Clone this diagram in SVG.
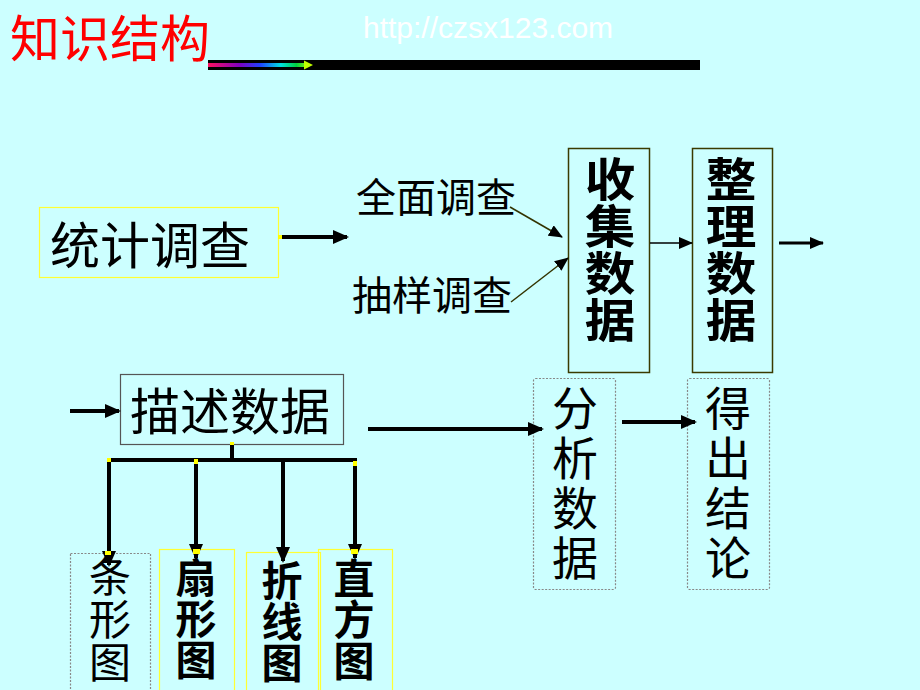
<svg xmlns="http://www.w3.org/2000/svg" width="920" height="690" viewBox="0 0 920 690">
<style>
.cn{font-family:"Noto Sans CJK SC","Noto Sans",sans-serif;fill:#000}
.v{writing-mode:vertical-rl;text-orientation:upright}
.b{font-weight:bold}
.box{fill:none}
.yel{stroke:#ffff33;stroke-width:1.2}
.dot{stroke:#888;stroke-width:1.2;stroke-dasharray:2 1.5}
.olive{stroke:#3a3a00;stroke-width:1.5}
.gray{stroke:#555;stroke-width:1.2}
.thick{stroke:#000;stroke-width:4;fill:none}
.thin{stroke:#333300;stroke-width:1.5;fill:none}
.cap{fill:#ffff00}
</style>
<defs>
<marker id="ah" markerUnits="userSpaceOnUse" markerWidth="16" markerHeight="14" refX="14" refY="7" orient="auto">
<path d="M0,0 L16,7 L0,14 Z" fill="#000"/>
</marker>
<marker id="ahs" markerUnits="userSpaceOnUse" markerWidth="14" markerHeight="12" refX="13" refY="6" orient="auto">
<path d="M0,0 L14,6 L0,12 Z" fill="#000"/>
</marker>
<linearGradient id="rainbow" x1="208" y1="0" x2="312" y2="0" gradientUnits="userSpaceOnUse">
<stop offset="0" stop-color="#ff1060"/>
<stop offset="0.3" stop-color="#8000c0"/>
<stop offset="0.5" stop-color="#2040ff"/>
<stop offset="0.7" stop-color="#00e0e0"/>
<stop offset="0.85" stop-color="#00d040"/>
<stop offset="1" stop-color="#c0ff00"/>
</linearGradient>
</defs>
<rect width="920" height="690" fill="#ccffff"/>

<g id="title">
<text x="10" y="57" class="cn" style="fill:#ff0000;font-size:50px">知识结构</text>
<text x="363" y="38" style="font-family:'Liberation Sans',Arial,sans-serif;font-size:30px;fill:#ffffff">http://czsx123.com</text>
<rect x="208" y="60" width="492" height="10" fill="#000"/>
<rect x="208" y="63" width="98" height="4" fill="url(#rainbow)"/>
<path d="M304,60.5 L313,65 L304,69.5 Z" fill="#c0ff00"/>
</g>

<g id="n-tongji">
<rect x="39.5" y="207.5" width="239" height="70" class="box yel"/>
<text x="50" y="264" class="cn" style="font-size:50px">统计调查</text>
</g>

<g id="n-quanmian">
<text x="356" y="212" class="cn" style="font-size:40px">全面调查</text>
</g>
<g id="n-chouyang">
<text x="352" y="310" class="cn" style="font-size:40px">抽样调查</text>
</g>

<g id="n-shouji">
<rect x="568.5" y="148.5" width="81" height="224" class="box olive"/>
<text x="0" y="156" class="cn b v" style="font-size:46px;letter-spacing:1px" transform="translate(610,0) scale(1.1,1)">收集数据</text>
</g>

<g id="n-zhengli">
<rect x="692.5" y="148.5" width="80" height="224" class="box olive"/>
<text x="0" y="156" class="cn b v" style="font-size:46px;letter-spacing:1px" transform="translate(731,0) scale(1.1,1)">整理数据</text>
</g>

<g id="n-miaoshu">
<rect x="120.5" y="374.5" width="223" height="70" class="box gray"/>
<text x="130" y="430" class="cn" style="font-size:50px">描述数据</text>
</g>

<g id="n-fenxi">
<rect x="533.5" y="378.5" width="82" height="211" rx="2" class="box dot"/>
<text x="575" y="385" class="cn v" style="font-size:46px;letter-spacing:4px">分析数据</text>
</g>

<g id="n-dechu">
<rect x="687.5" y="378.5" width="82" height="211" rx="2" class="box dot"/>
<text x="728" y="385" class="cn v" style="font-size:46px;letter-spacing:4px">得出结论</text>
</g>

<g id="n-tiaoxing">
<rect x="70.5" y="553.5" width="80" height="140" class="box dot"/>
<text x="110" y="555" class="cn v" style="font-size:42px;letter-spacing:1px">条形图</text>
</g>

<g id="n-shanxing">
<rect x="159.5" y="549.5" width="75" height="144" class="box yel"/>
<text x="196" y="557" class="cn b v" style="font-size:41px">扇形图</text>
</g>

<g id="n-zhexian">
<rect x="246.5" y="552.5" width="74" height="141" class="box yel"/>
<text x="282" y="560" class="cn b v" style="font-size:41px">折线图</text>
</g>

<g id="n-zhifang">
<rect x="318.5" y="549.5" width="74" height="144" class="box yel"/>
<text x="354" y="558" class="cn b v" style="font-size:41px">直方图</text>
</g>

<g id="connectors">
<line x1="281" y1="237" x2="347" y2="237" class="thick" marker-end="url(#ah)"/>
<rect x="278" y="235" width="4" height="4" class="cap"/>
<line x1="510" y1="207" x2="562" y2="237" class="thin" marker-end="url(#ahs)"/>
<line x1="511" y1="302" x2="568" y2="258" class="thin" marker-end="url(#ahs)"/>
<line x1="650" y1="243" x2="692" y2="243" stroke="#000" stroke-width="1.5" marker-end="url(#ahs)"/>
<line x1="779" y1="243" x2="823" y2="243" stroke="#000" stroke-width="3" marker-end="url(#ahs)"/>
<line x1="70" y1="411" x2="119" y2="411" class="thick" marker-end="url(#ah)"/>
<line x1="368" y1="429" x2="542" y2="429" class="thick" marker-end="url(#ah)"/>
<line x1="622" y1="422" x2="695" y2="422" class="thick" marker-end="url(#ah)"/>
<polyline points="232,445 232,460" class="thick"/>
<line x1="107" y1="460" x2="357" y2="460" class="thick"/>
<line x1="109" y1="460" x2="109" y2="565" class="thick" marker-end="url(#ah)"/>
<line x1="196" y1="460" x2="196" y2="558" class="thick" marker-end="url(#ah)"/>
<line x1="283" y1="460" x2="283" y2="561" class="thick" marker-end="url(#ah)"/>
<line x1="355" y1="460" x2="355" y2="558" class="thick" marker-end="url(#ah)"/>
<rect x="230" y="442" width="4" height="3" class="cap"/>
<rect x="107" y="458" width="4" height="4" class="cap"/>
<rect x="194" y="459" width="4" height="5" class="cap"/>
<rect x="353" y="461" width="4" height="5" class="cap"/>
<rect x="193" y="549" width="7" height="5" class="cap"/>
<rect x="351" y="549" width="7" height="5" class="cap"/>
<rect x="105" y="551" width="6" height="4" class="cap"/>
</g>
</svg>
